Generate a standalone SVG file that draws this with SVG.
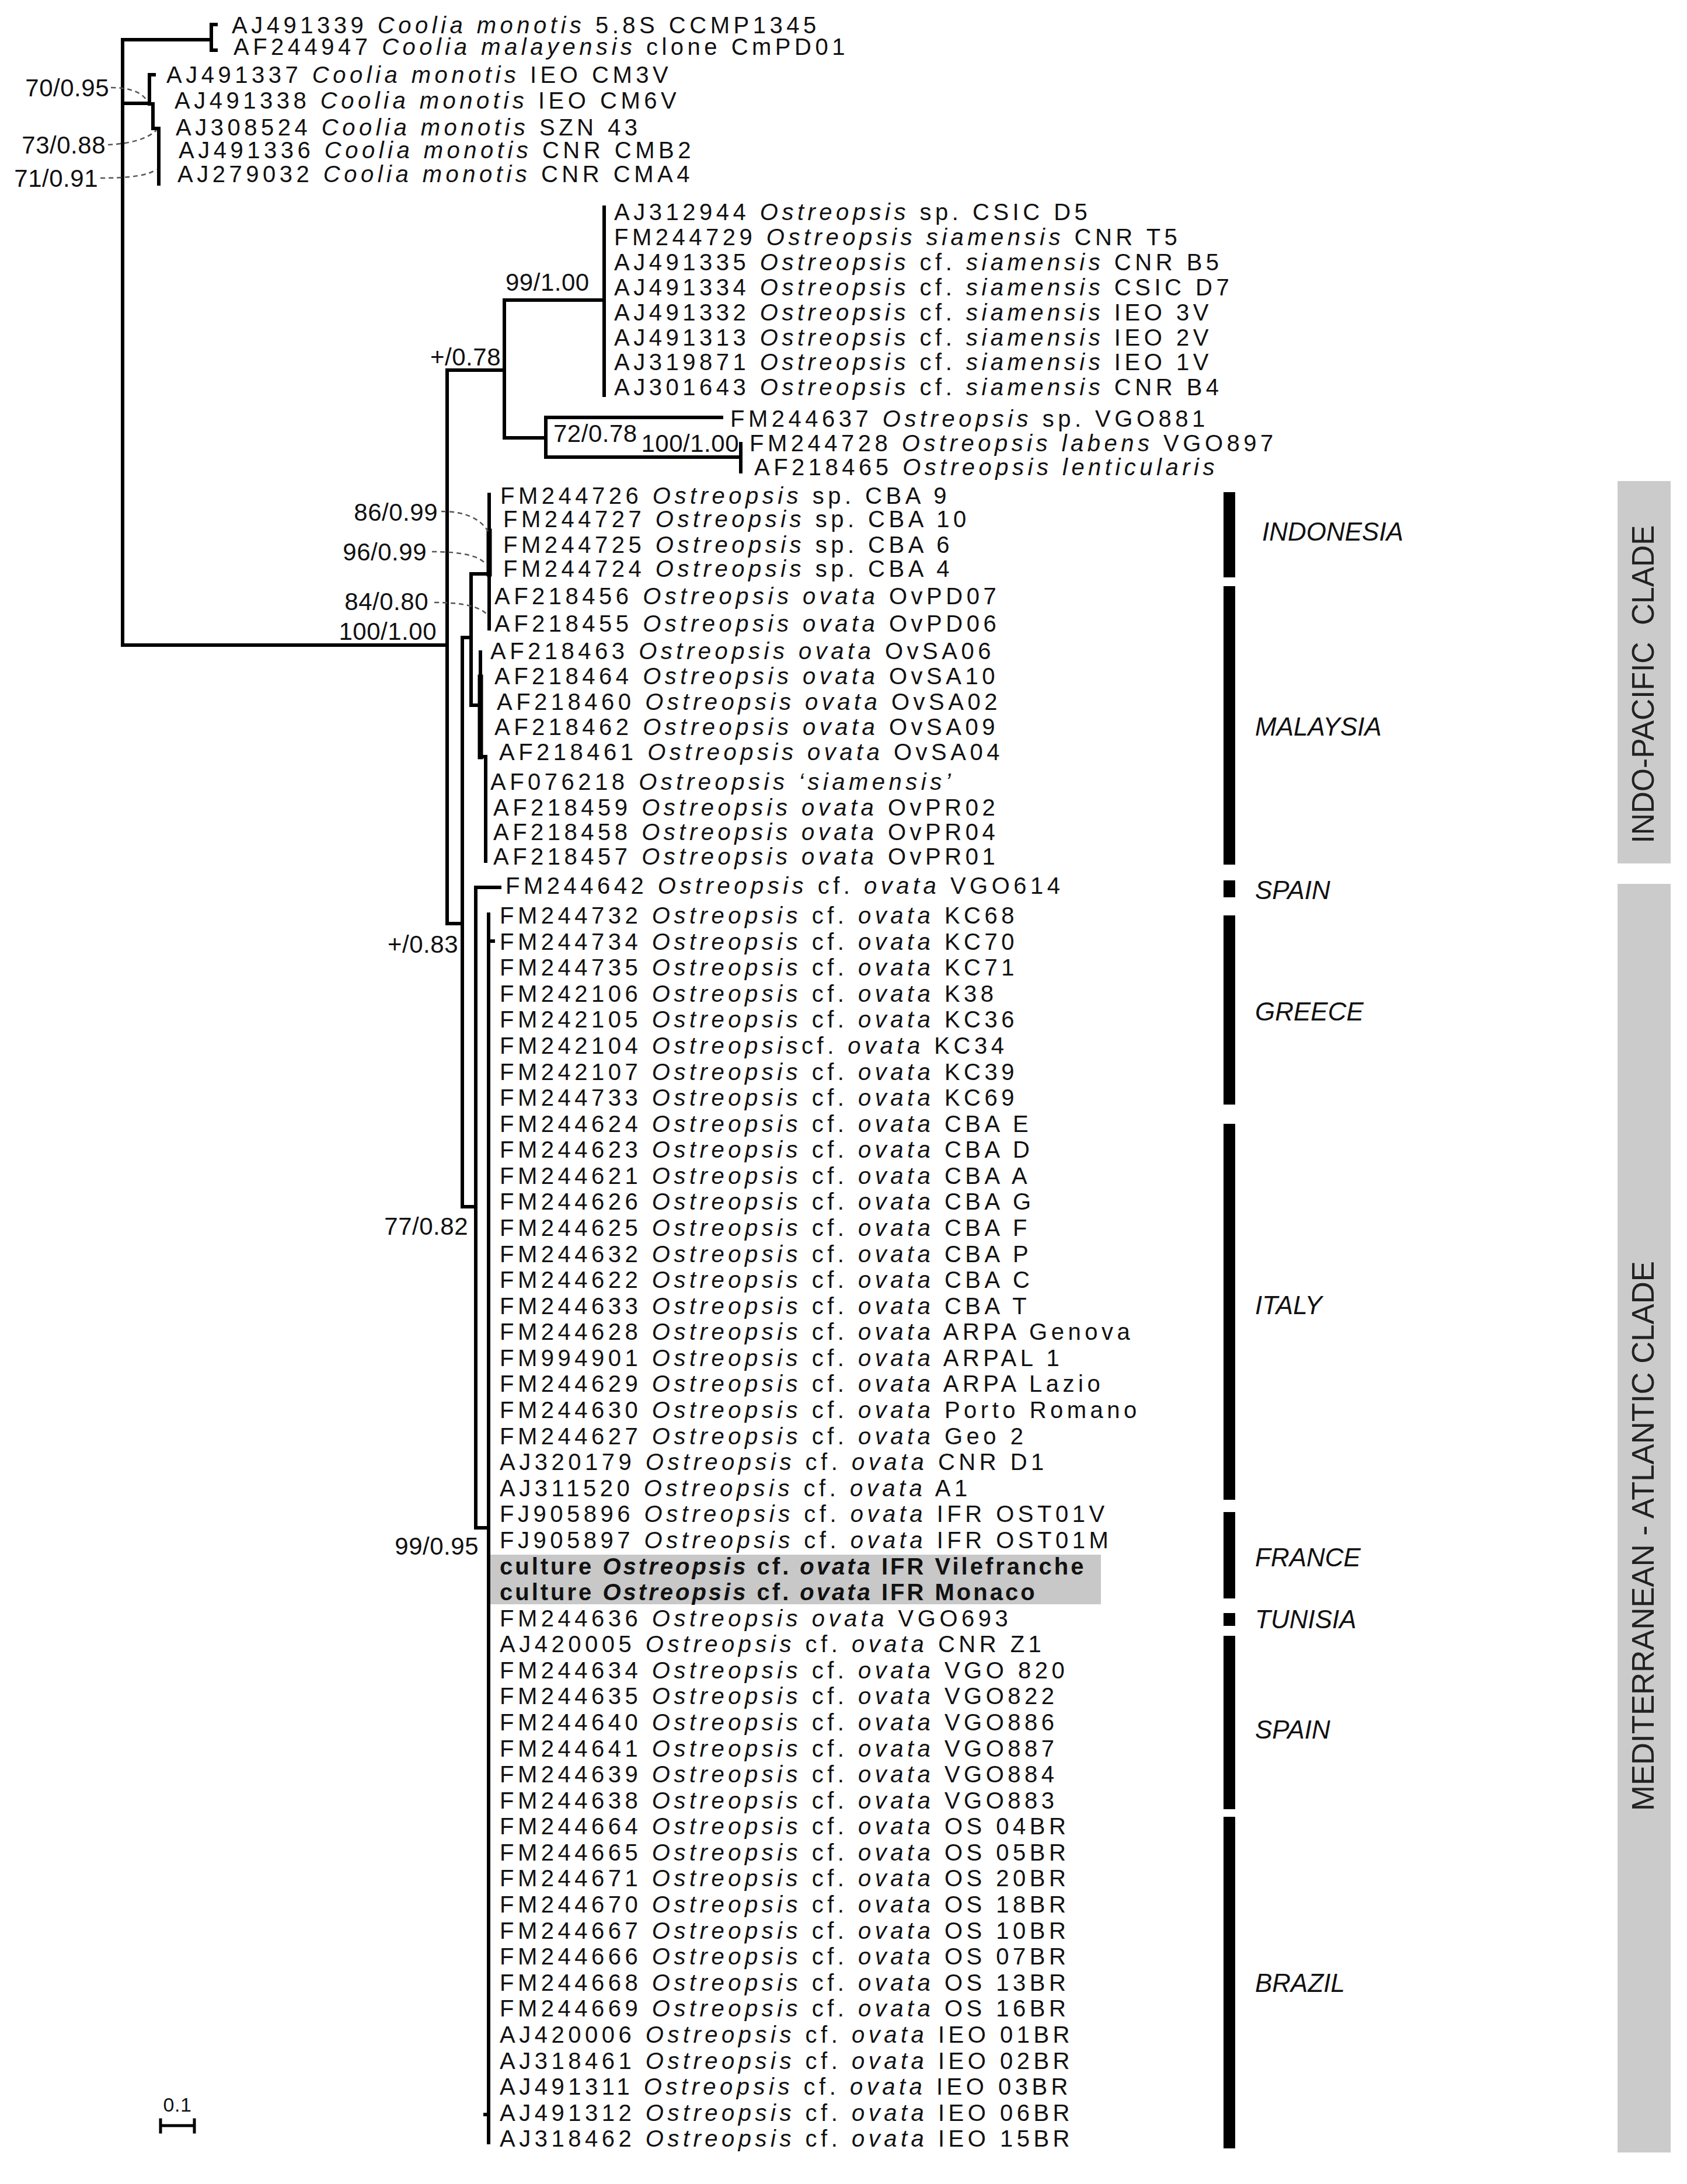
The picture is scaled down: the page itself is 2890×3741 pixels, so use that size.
<svg xmlns="http://www.w3.org/2000/svg" width="2890" height="3741" viewBox="0 0 2890 3741">
<style>
.t{font-family:"Liberation Sans",Arial,sans-serif;font-size:40px;letter-spacing:6.5px;fill:#111}
.i{font-style:italic}
.b{font-weight:bold;letter-spacing:4px}
.bs{font-family:"Liberation Sans",Arial,sans-serif;font-size:42px;letter-spacing:0.5px;fill:#111}
.ct{font-family:"Liberation Sans",Arial,sans-serif;font-size:44px;font-style:italic;fill:#111}
.cl{font-family:"Liberation Sans",Arial,sans-serif;font-size:54px;fill:#222}
.br{fill:none;stroke:#000;stroke-width:6;stroke-linecap:square}
.dl{fill:none;stroke:#555;stroke-width:2.5;stroke-dasharray:8 6}
.bar{fill:#000}
.band{fill:#cbcbcb}
</style>
<rect width="2890" height="3741" fill="#fff"/>
<g id="bands">
<rect class="band" x="2771" y="824" width="91" height="655"/>
<rect class="band" x="2771" y="1514" width="91" height="2173"/>
<text class="cl" xml:space="preserve" transform="translate(2814,1172) rotate(-90)" text-anchor="middle" dominant-baseline="central" textLength="545" lengthAdjust="spacingAndGlyphs">INDO-PACIFIC  CLADE</text>
<text class="cl" transform="translate(2814,2631) rotate(-90)" text-anchor="middle" dominant-baseline="central" textLength="942" lengthAdjust="spacingAndGlyphs">MEDITERRANEAN - ATLANTIC CLADE</text>
</g>
<rect id="highlight" x="839" y="2663" width="1047" height="85" fill="#c8c8c8"/>
<g id="connectors">
<path class="br" d="M210 68V1105M210 1105H766M210 68H362M362 42V86M362 42H370M362 86H370M210 177H256M256 128V178M256 128H264M262 178V220M262 220H272M272 220V315"/>
<path class="br" d="M766 634V1582M766 634H864M864 514V750M864 514H1035M1035 355V677M864 750H935M935 715V783M935 715H1236M935 783H1269M1269 760V808"/>
<path class="br" d="M766 1582H792M792 1092V2067M792 1092H807M807 983V1208M807 983H838M838 847V1077M807 1208H823M823 1117V1296M832 1296V1475M823 1296H832"/>
<path class="br" d="M823 1160V1296M838 910V983" style="stroke-width:9"/>
<path class="br" d="M792 2067H815M815 1520V2617M815 1520H856M815 2617H837M837 1566V3670M837 1612H845M837 3622H831"/>
<path class="dl" d="M190 150Q235 150 250 170M185 248Q245 245 268 223M172 305Q250 305 268 290M756 876Q815 876 836 910M740 945Q815 945 832 966M744 1032Q815 1032 834 1052"/>
</g>
<g id="support">
<text class="bs" x="187" y="165" text-anchor="end">70/0.95</text>
<text class="bs" x="181" y="263" text-anchor="end">73/0.88</text>
<text class="bs" x="168" y="320" text-anchor="end">71/0.91</text>
<text class="bs" x="866" y="498">99/1.00</text>
<text class="bs" x="858" y="626" text-anchor="end">+/0.78</text>
<text class="bs" x="948" y="757">72/0.78</text>
<text class="bs" x="1266" y="774" text-anchor="end">100/1.00</text>
<text class="bs" x="750" y="892" text-anchor="end">86/0.99</text>
<text class="bs" x="731" y="960" text-anchor="end">96/0.99</text>
<text class="bs" x="734" y="1045" text-anchor="end">84/0.80</text>
<text class="bs" x="748" y="1096" text-anchor="end">100/1.00</text>
<text class="bs" x="785" y="1632" text-anchor="end">+/0.83</text>
<text class="bs" x="802" y="2115" text-anchor="end">77/0.82</text>
<text class="bs" x="820" y="2663" text-anchor="end">99/0.95</text>
</g>
<g id="leaves">
<g id="n01"><text class="t" x="397" y="57">AJ491339 <tspan class="i">Coolia monotis</tspan> 5.8S CCMP1345</text></g>
<g id="n02"><text class="t" x="400" y="94">AF244947 <tspan class="i">Coolia malayensis</tspan> clone CmPD01</text></g>
<g id="n03"><text class="t" x="285" y="142">AJ491337 <tspan class="i">Coolia monotis</tspan> IEO CM3V</text></g>
<g id="n04"><text class="t" x="299" y="186">AJ491338 <tspan class="i">Coolia monotis</tspan> IEO CM6V</text></g>
<g id="n05"><text class="t" x="301" y="232">AJ308524 <tspan class="i">Coolia monotis</tspan> SZN 43</text></g>
<g id="n06"><text class="t" x="306" y="271">AJ491336 <tspan class="i">Coolia monotis</tspan> CNR CMB2</text></g>
<g id="n07"><text class="t" x="304" y="312">AJ279032 <tspan class="i">Coolia monotis</tspan> CNR CMA4</text></g>
<g id="n08"><text class="t" x="1052" y="377">AJ312944 <tspan class="i">Ostreopsis</tspan> sp. CSIC D5</text></g>
<g id="n09"><text class="t" x="1052" y="420">FM244729 <tspan class="i">Ostreopsis siamensis</tspan> CNR T5</text></g>
<g id="n10"><text class="t" x="1052" y="463">AJ491335 <tspan class="i">Ostreopsis</tspan> cf. <tspan class="i">siamensis</tspan> CNR B5</text></g>
<g id="n11"><text class="t" x="1052" y="506">AJ491334 <tspan class="i">Ostreopsis</tspan> cf. <tspan class="i">siamensis</tspan> CSIC D7</text></g>
<g id="n12"><text class="t" x="1052" y="549">AJ491332 <tspan class="i">Ostreopsis</tspan> cf. <tspan class="i">siamensis</tspan> IEO 3V</text></g>
<g id="n13"><text class="t" x="1052" y="592">AJ491313 <tspan class="i">Ostreopsis</tspan> cf. <tspan class="i">siamensis</tspan> IEO 2V</text></g>
<g id="n14"><text class="t" x="1052" y="634">AJ319871 <tspan class="i">Ostreopsis</tspan> cf. <tspan class="i">siamensis</tspan> IEO 1V</text></g>
<g id="n15"><text class="t" x="1052" y="677">AJ301643 <tspan class="i">Ostreopsis</tspan> cf. <tspan class="i">siamensis</tspan> CNR B4</text></g>
<g id="n16"><text class="t" x="1251" y="731">FM244637 <tspan class="i">Ostreopsis</tspan> sp. VGO881</text></g>
<g id="n17"><text class="t" x="1284" y="773">FM244728 <tspan class="i">Ostreopsis labens</tspan> VGO897</text></g>
<g id="n18"><text class="t" x="1292" y="814">AF218465 <tspan class="i">Ostreopsis lenticularis</tspan></text></g>
<g id="n19"><text class="t" x="857" y="863">FM244726 <tspan class="i">Ostreopsis</tspan> sp. CBA 9</text></g>
<g id="n20"><text class="t" x="862" y="903">FM244727 <tspan class="i">Ostreopsis</tspan> sp. CBA 10</text></g>
<g id="n21"><text class="t" x="862" y="947">FM244725 <tspan class="i">Ostreopsis</tspan> sp. CBA 6</text></g>
<g id="n22"><text class="t" x="862" y="988">FM244724 <tspan class="i">Ostreopsis</tspan> sp. CBA 4</text></g>
<g id="n23"><text class="t" x="847" y="1035">AF218456 <tspan class="i">Ostreopsis ovata</tspan> OvPD07</text></g>
<g id="n24"><text class="t" x="847" y="1082">AF218455 <tspan class="i">Ostreopsis ovata</tspan> OvPD06</text></g>
<g id="n25"><text class="t" x="840" y="1129">AF218463 <tspan class="i">Ostreopsis ovata</tspan> OvSA06</text></g>
<g id="n26"><text class="t" x="847" y="1172">AF218464 <tspan class="i">Ostreopsis ovata</tspan> OvSA10</text></g>
<g id="n27"><text class="t" x="851" y="1216">AF218460 <tspan class="i">Ostreopsis ovata</tspan> OvSA02</text></g>
<g id="n28"><text class="t" x="847" y="1259">AF218462 <tspan class="i">Ostreopsis ovata</tspan> OvSA09</text></g>
<g id="n29"><text class="t" x="855" y="1302">AF218461 <tspan class="i">Ostreopsis ovata</tspan> OvSA04</text></g>
<g id="n30"><text class="t" x="840" y="1353">AF076218 <tspan class="i">Ostreopsis ‘siamensis’</tspan></text></g>
<g id="n31"><text class="t" x="845" y="1397">AF218459 <tspan class="i">Ostreopsis ovata</tspan> OvPR02</text></g>
<g id="n32"><text class="t" x="845" y="1439">AF218458 <tspan class="i">Ostreopsis ovata</tspan> OvPR04</text></g>
<g id="n33"><text class="t" x="845" y="1481">AF218457 <tspan class="i">Ostreopsis ovata</tspan> OvPR01</text></g>
<g id="n34"><text class="t" x="866" y="1531">FM244642 <tspan class="i">Ostreopsis</tspan> cf. <tspan class="i">ovata</tspan> VGO614</text></g>
<g id="n35"><text class="t" x="856" y="1582">FM244732 <tspan class="i">Ostreopsis</tspan> cf. <tspan class="i">ovata</tspan> KC68</text></g>
<g id="n36"><text class="t" x="856" y="1627">FM244734 <tspan class="i">Ostreopsis</tspan> cf. <tspan class="i">ovata</tspan> KC70</text></g>
<g id="n37"><text class="t" x="856" y="1671">FM244735 <tspan class="i">Ostreopsis</tspan> cf. <tspan class="i">ovata</tspan> KC71</text></g>
<g id="n38"><text class="t" x="856" y="1716">FM242106 <tspan class="i">Ostreopsis</tspan> cf. <tspan class="i">ovata</tspan> K38</text></g>
<g id="n39"><text class="t" x="856" y="1760">FM242105 <tspan class="i">Ostreopsis</tspan> cf. <tspan class="i">ovata</tspan> KC36</text></g>
<g id="n40"><text class="t" x="856" y="1805">FM242104 <tspan class="i">Ostreopsis</tspan>cf. <tspan class="i">ovata</tspan> KC34</text></g>
<g id="n41"><text class="t" x="856" y="1850">FM242107 <tspan class="i">Ostreopsis</tspan> cf. <tspan class="i">ovata</tspan> KC39</text></g>
<g id="n42"><text class="t" x="856" y="1894">FM244733 <tspan class="i">Ostreopsis</tspan> cf. <tspan class="i">ovata</tspan> KC69</text></g>
<g id="n43"><text class="t" x="856" y="1939">FM244624 <tspan class="i">Ostreopsis</tspan> cf. <tspan class="i">ovata</tspan> CBA E</text></g>
<g id="n44"><text class="t" x="856" y="1983">FM244623 <tspan class="i">Ostreopsis</tspan> cf. <tspan class="i">ovata</tspan> CBA D</text></g>
<g id="n45"><text class="t" x="856" y="2028">FM244621 <tspan class="i">Ostreopsis</tspan> cf. <tspan class="i">ovata</tspan> CBA A</text></g>
<g id="n46"><text class="t" x="856" y="2072">FM244626 <tspan class="i">Ostreopsis</tspan> cf. <tspan class="i">ovata</tspan> CBA G</text></g>
<g id="n47"><text class="t" x="856" y="2117">FM244625 <tspan class="i">Ostreopsis</tspan> cf. <tspan class="i">ovata</tspan> CBA F</text></g>
<g id="n48"><text class="t" x="856" y="2162">FM244632 <tspan class="i">Ostreopsis</tspan> cf. <tspan class="i">ovata</tspan> CBA P</text></g>
<g id="n49"><text class="t" x="856" y="2206">FM244622 <tspan class="i">Ostreopsis</tspan> cf. <tspan class="i">ovata</tspan> CBA C</text></g>
<g id="n50"><text class="t" x="856" y="2251">FM244633 <tspan class="i">Ostreopsis</tspan> cf. <tspan class="i">ovata</tspan> CBA T</text></g>
<g id="n51"><text class="t" x="856" y="2295">FM244628 <tspan class="i">Ostreopsis</tspan> cf. <tspan class="i">ovata</tspan> ARPA Genova</text></g>
<g id="n52"><text class="t" x="856" y="2340">FM994901 <tspan class="i">Ostreopsis</tspan> cf. <tspan class="i">ovata</tspan> ARPAL 1</text></g>
<g id="n53"><text class="t" x="856" y="2384">FM244629 <tspan class="i">Ostreopsis</tspan> cf. <tspan class="i">ovata</tspan> ARPA Lazio</text></g>
<g id="n54"><text class="t" x="856" y="2429">FM244630 <tspan class="i">Ostreopsis</tspan> cf. <tspan class="i">ovata</tspan> Porto Romano</text></g>
<g id="n55"><text class="t" x="856" y="2474">FM244627 <tspan class="i">Ostreopsis</tspan> cf. <tspan class="i">ovata</tspan> Geo 2</text></g>
<g id="n56"><text class="t" x="856" y="2518">AJ320179 <tspan class="i">Ostreopsis</tspan> cf. <tspan class="i">ovata</tspan> CNR D1</text></g>
<g id="n57"><text class="t" x="856" y="2563">AJ311520 <tspan class="i">Ostreopsis</tspan> cf. <tspan class="i">ovata</tspan> A1</text></g>
<g id="n58"><text class="t" x="856" y="2607">FJ905896 <tspan class="i">Ostreopsis</tspan> cf. <tspan class="i">ovata</tspan> IFR OST01V</text></g>
<g id="n59"><text class="t" x="856" y="2652">FJ905897 <tspan class="i">Ostreopsis</tspan> cf. <tspan class="i">ovata</tspan> IFR OST01M</text></g>
<g id="n60"><text class="t b" x="856" y="2697">culture <tspan class="i">Ostreopsis</tspan> cf. <tspan class="i">ovata</tspan> IFR Vilefranche</text></g>
<g id="n61"><text class="t b" x="856" y="2741">culture <tspan class="i">Ostreopsis</tspan> cf. <tspan class="i">ovata</tspan> IFR Monaco</text></g>
<g id="n62"><text class="t" x="856" y="2786">FM244636 <tspan class="i">Ostreopsis ovata</tspan> VGO693</text></g>
<g id="n63"><text class="t" x="856" y="2830">AJ420005 <tspan class="i">Ostreopsis</tspan> cf. <tspan class="i">ovata</tspan> CNR Z1</text></g>
<g id="n64"><text class="t" x="856" y="2875">FM244634 <tspan class="i">Ostreopsis</tspan> cf. <tspan class="i">ovata</tspan> VGO 820</text></g>
<g id="n65"><text class="t" x="856" y="2919">FM244635 <tspan class="i">Ostreopsis</tspan> cf. <tspan class="i">ovata</tspan> VGO822</text></g>
<g id="n66"><text class="t" x="856" y="2964">FM244640 <tspan class="i">Ostreopsis</tspan> cf. <tspan class="i">ovata</tspan> VGO886</text></g>
<g id="n67"><text class="t" x="856" y="3009">FM244641 <tspan class="i">Ostreopsis</tspan> cf. <tspan class="i">ovata</tspan> VGO887</text></g>
<g id="n68"><text class="t" x="856" y="3053">FM244639 <tspan class="i">Ostreopsis</tspan> cf. <tspan class="i">ovata</tspan> VGO884</text></g>
<g id="n69"><text class="t" x="856" y="3098">FM244638 <tspan class="i">Ostreopsis</tspan> cf. <tspan class="i">ovata</tspan> VGO883</text></g>
<g id="n70"><text class="t" x="856" y="3142">FM244664 <tspan class="i">Ostreopsis</tspan> cf. <tspan class="i">ovata</tspan> OS 04BR</text></g>
<g id="n71"><text class="t" x="856" y="3187">FM244665 <tspan class="i">Ostreopsis</tspan> cf. <tspan class="i">ovata</tspan> OS 05BR</text></g>
<g id="n72"><text class="t" x="856" y="3231">FM244671 <tspan class="i">Ostreopsis</tspan> cf. <tspan class="i">ovata</tspan> OS 20BR</text></g>
<g id="n73"><text class="t" x="856" y="3276">FM244670 <tspan class="i">Ostreopsis</tspan> cf. <tspan class="i">ovata</tspan> OS 18BR</text></g>
<g id="n74"><text class="t" x="856" y="3321">FM244667 <tspan class="i">Ostreopsis</tspan> cf. <tspan class="i">ovata</tspan> OS 10BR</text></g>
<g id="n75"><text class="t" x="856" y="3365">FM244666 <tspan class="i">Ostreopsis</tspan> cf. <tspan class="i">ovata</tspan> OS 07BR</text></g>
<g id="n76"><text class="t" x="856" y="3410">FM244668 <tspan class="i">Ostreopsis</tspan> cf. <tspan class="i">ovata</tspan> OS 13BR</text></g>
<g id="n77"><text class="t" x="856" y="3454">FM244669 <tspan class="i">Ostreopsis</tspan> cf. <tspan class="i">ovata</tspan> OS 16BR</text></g>
<g id="n78"><text class="t" x="856" y="3499">AJ420006 <tspan class="i">Ostreopsis</tspan> cf. <tspan class="i">ovata</tspan> IEO 01BR</text></g>
<g id="n79"><text class="t" x="856" y="3544">AJ318461 <tspan class="i">Ostreopsis</tspan> cf. <tspan class="i">ovata</tspan> IEO 02BR</text></g>
<g id="n80"><text class="t" x="856" y="3588">AJ491311 <tspan class="i">Ostreopsis</tspan> cf. <tspan class="i">ovata</tspan> IEO 03BR</text></g>
<g id="n81"><text class="t" x="856" y="3633">AJ491312 <tspan class="i">Ostreopsis</tspan> cf. <tspan class="i">ovata</tspan> IEO 06BR</text></g>
<g id="n82"><text class="t" x="856" y="3677">AJ318462 <tspan class="i">Ostreopsis</tspan> cf. <tspan class="i">ovata</tspan> IEO 15BR</text></g>
</g>
<g id="regions">
<rect class="bar" x="2096" y="843" width="20" height="146"/>
<rect class="bar" x="2096" y="1004" width="20" height="477"/>
<rect class="bar" x="2096" y="1508" width="20" height="29"/>
<rect class="bar" x="2096" y="1568" width="20" height="324"/>
<rect class="bar" x="2096" y="1925" width="20" height="644"/>
<rect class="bar" x="2096" y="2590" width="20" height="148"/>
<rect class="bar" x="2096" y="2763" width="20" height="22"/>
<rect class="bar" x="2096" y="2802" width="20" height="297"/>
<rect class="bar" x="2096" y="3112" width="20" height="568"/>
<text class="ct" x="2162" y="926">INDONESIA</text>
<text class="ct" x="2150" y="1260">MALAYSIA</text>
<text class="ct" x="2150" y="1540">SPAIN</text>
<text class="ct" x="2150" y="1748">GREECE</text>
<text class="ct" x="2150" y="2251">ITALY</text>
<text class="ct" x="2150" y="2683">FRANCE</text>
<text class="ct" x="2150" y="2789">TUNISIA</text>
<text class="ct" x="2150" y="2978">SPAIN</text>
<text class="ct" x="2150" y="3412">BRAZIL</text>
</g>
<g id="scale">
<path class="br" d="M275 3641H333M275 3631V3652M333 3631V3652" style="stroke-width:5"/>
<text class="bs" x="304" y="3617" text-anchor="middle" style="font-size:34px">0.1</text>
</g>
</svg>
